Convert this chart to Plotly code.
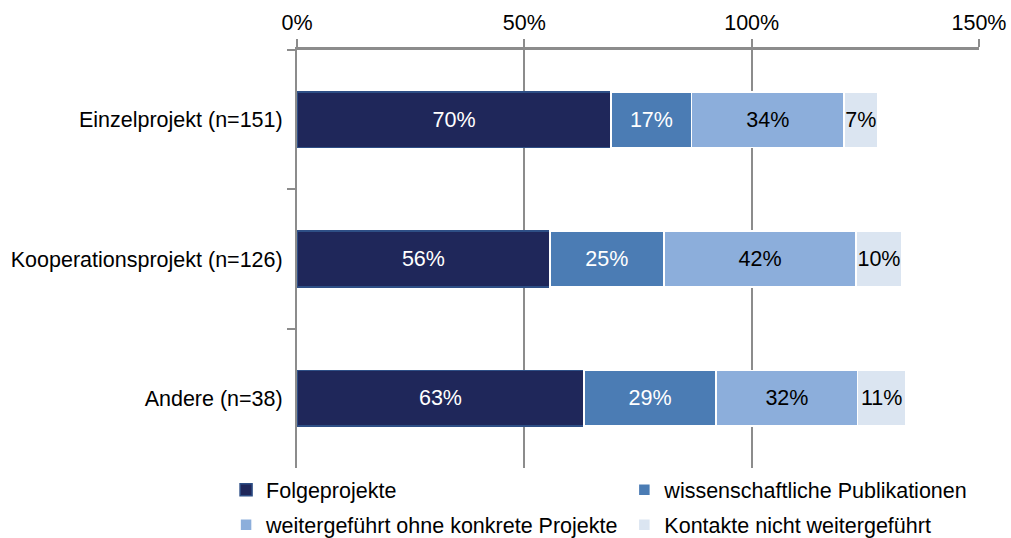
import plotly.graph_objects as go

categories = ["Einzelprojekt (n=151)", "Kooperationsprojekt (n=126)", "Andere (n=38)"]
series_names = ["Folgeprojekte", "wissenschaftliche Publikationen",
                "weitergeführt ohne konkrete Projekte", "Kontakte nicht weitergeführt"]
# bar lengths (percent)
folgeprojekte = [69.1, 55.6, 63.1]
publikationen = [17.7, 25.1, 29.1]
weitergefuehrt = [33.5, 42.3, 31.1]
kontakte = [7.4, 10.0, 10.6]
# printed labels (percent)
folgeprojekte_lbl = [70, 56, 63]
publikationen_lbl = [17, 25, 29]
weitergefuehrt_lbl = [34, 42, 32]
kontakte_lbl = [7, 10, 11]
x_ticks = [0, 50, 100, 150]

colors = ["#1F275A", "#4B7CB4", "#8CAEDB", "#DBE5F1"]
line_colors = ["#2E4F86", "#FFFFFF", "#FFFFFF", "#FFFFFF"]
text_colors = ["#FFFFFF", "#FFFFFF", "#000000", "#000000"]
legend_ids = ["legend", "legend2", "legend3", "legend4"]
FONT = "Liberation Sans, Arial, sans-serif"
FS = 21.5

fig = go.Figure()
for name, vals, lbls, c, lc, tc, lg in zip(
        series_names,
        [folgeprojekte, publikationen, weitergefuehrt, kontakte],
        [folgeprojekte_lbl, publikationen_lbl, weitergefuehrt_lbl, kontakte_lbl],
        colors, line_colors, text_colors, legend_ids):
    fig.add_trace(go.Bar(
        y=categories, x=vals, name=name, orientation="h", legend=lg,
        marker=dict(color=c, line=dict(color=lc, width=1.5)),
        text=[f"{v}%" for v in lbls], textposition="inside", textangle=0,
        insidetextanchor="middle",
        textfont=dict(color=tc, size=FS, family=FONT),
        cliponaxis=False, hoverinfo="skip",
    ))

# legend placement: two columns, two rows (paper coordinates)
leg_x = [-0.104, 0.48, -0.104, 0.48]
leg_y = [-0.052, -0.052, -0.136, -0.136]
legend_layout = {}
for lg, lx, ly in zip(legend_ids, leg_x, leg_y):
    legend_layout[lg] = dict(x=lx, xanchor="left", y=ly, yanchor="middle",
                             orientation="h", bgcolor="rgba(0,0,0,0)",
                             font=dict(size=FS, family=FONT, color="#000000"),
                             itemwidth=30)

fig.update_layout(
    barmode="stack", bargap=0.6,
    width=1011, height=538,
    margin=dict(l=297, r=32, t=50, b=70, autoexpand=False),
    paper_bgcolor="white", plot_bgcolor="white",
    font=dict(family=FONT, size=FS, color="#000000"),
    uniformtext=dict(minsize=FS, mode="show"),
    showlegend=True,
    xaxis=dict(side="top", range=[0, 150], tickvals=x_ticks,
               ticktext=[f"{t}%" for t in x_ticks],
               showgrid=True, gridcolor="#8C8C8C", gridwidth=1.5,
               showline=True, linecolor="#8C8C8C", linewidth=3,
               ticks="outside", ticklen=8, tickcolor="#8C8C8C", tickwidth=1.5,
               zeroline=False, tickfont=dict(size=FS), fixedrange=True),
    yaxis=dict(autorange="reversed", showline=True, linecolor="#8C8C8C", linewidth=2,
               ticks="outside", tickson="boundaries", ticklen=8, tickcolor="#8C8C8C",
               tickwidth=1.5, showgrid=False, tickfont=dict(size=FS),
               ticklabelstandoff=8, fixedrange=True),
    **legend_layout,
)

# remove the default 8px page margin so the figure fills the window exactly
fig.write_html(
    "out.html",
    config={"displayModeBar": False},
    post_script="document.body.style.margin='0';document.body.style.overflow='hidden';",
)
